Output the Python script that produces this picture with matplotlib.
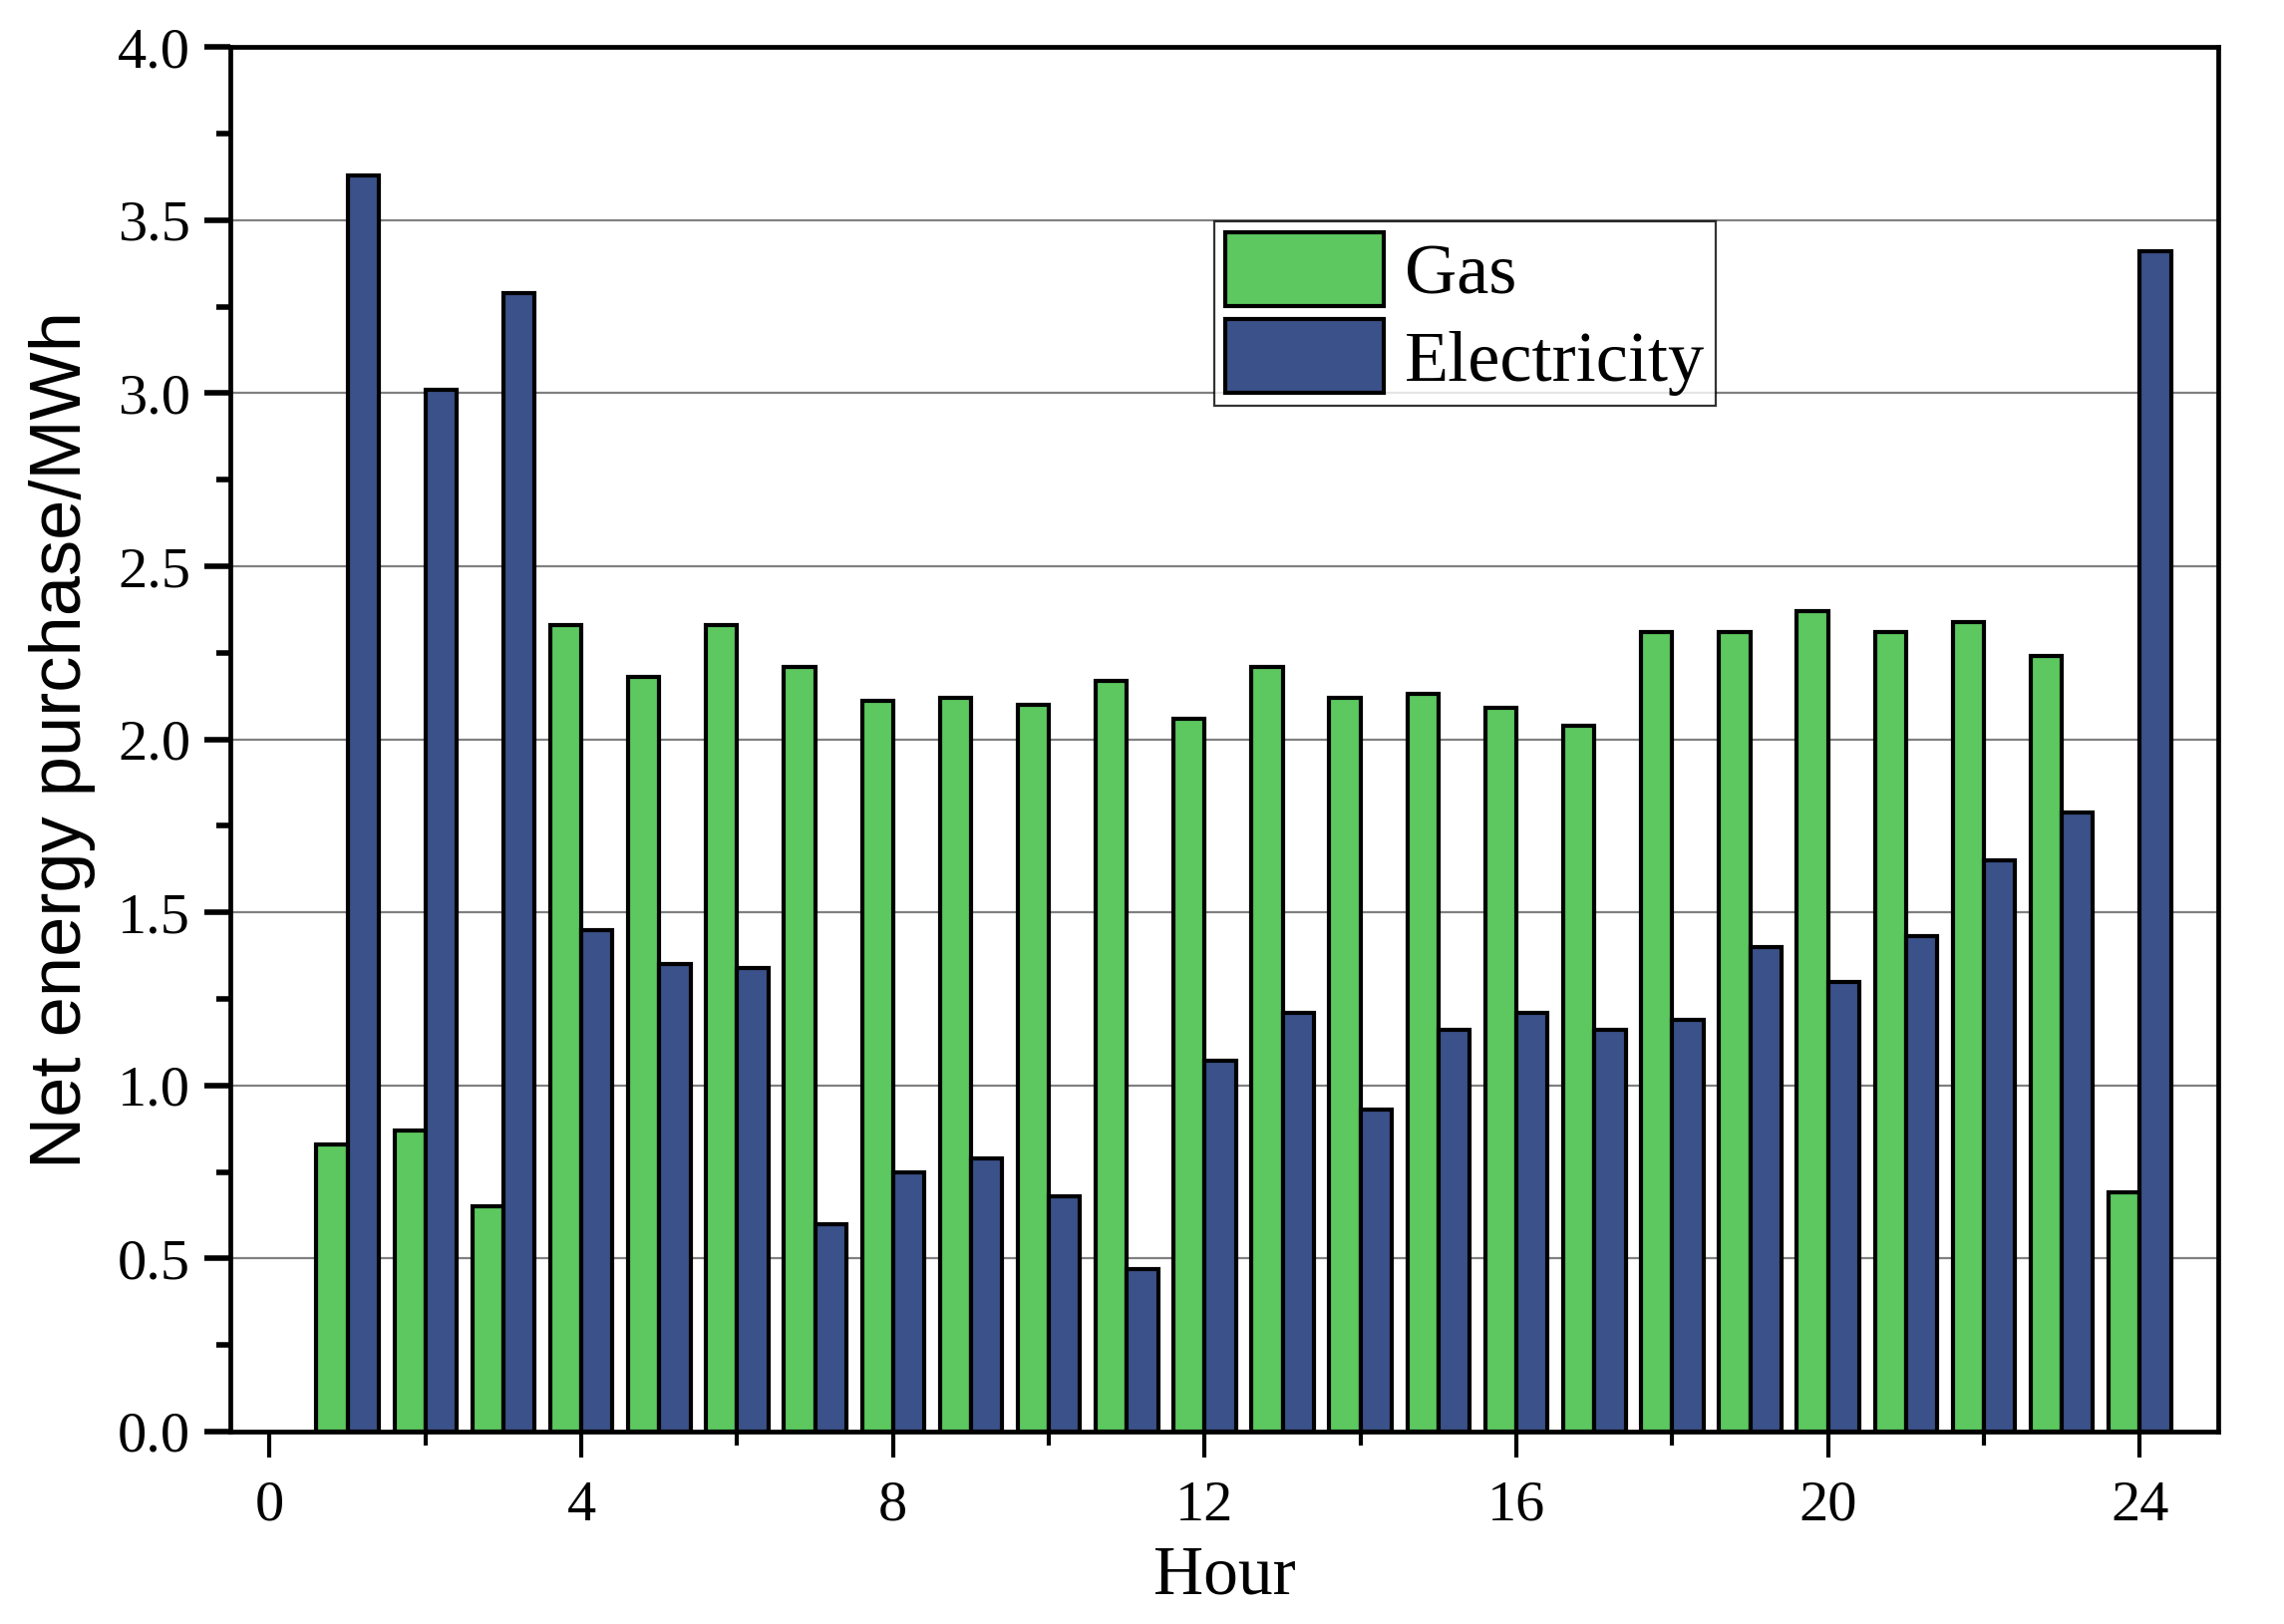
import numpy as np
import matplotlib
matplotlib.use("Agg")
import matplotlib.pyplot as plt
from matplotlib.ticker import MultipleLocator

# hourly net purchase
hours = list(range(1, 25))
gas = [0.83, 0.87, 0.65, 2.33, 2.18, 2.33, 2.21, 2.11, 2.12, 2.10, 2.17, 2.06,
       2.21, 2.12, 2.13, 2.09, 2.04, 2.31, 2.31, 2.37, 2.31, 2.34, 2.24, 0.69]
elec = [3.63, 3.01, 3.29, 1.45, 1.35, 1.34, 0.60, 0.75, 0.79, 0.68, 0.47, 1.07,
        1.21, 0.93, 1.16, 1.21, 1.16, 1.19, 1.40, 1.30, 1.43, 1.65, 1.79, 3.41]
series_names = ["Gas", "Electricity"]
xticks = [0, 4, 8, 12, 16, 20, 24]
yticks = [0.0, 0.5, 1.0, 1.5, 2.0, 2.5, 3.0, 3.5, 4.0]

serif = "Liberation Serif"
sans = "Liberation Sans"

fig = plt.figure(figsize=(11.455, 8.145), dpi=200)
ax = fig.add_axes([0.101, 0.1185, 0.870, 0.8525])

x = np.array(hours)
w = 0.4
ax.bar(x - w / 2, gas, width=w, color="#5CC85F", edgecolor="black", linewidth=1.5,
       label=series_names[0], zorder=3)
ax.bar(x + w / 2, elec, width=w, color="#3A5189", edgecolor="black", linewidth=1.5,
       label=series_names[1], zorder=3)

ax.set_xlim(-0.5, 25)
ax.set_ylim(0, 4.0)
ax.set_xticks(xticks)
ax.xaxis.set_minor_locator(MultipleLocator(2))
ax.set_yticks(yticks)
ax.yaxis.set_minor_locator(MultipleLocator(0.25))
ax.set_yticklabels(["%.1f" % v for v in yticks], family=serif, fontsize=21)
ax.set_xticklabels([str(v) for v in xticks], family=serif, fontsize=21)

ax.grid(axis="y", which="major", color="#808080", linewidth=0.8, zorder=0)

for s in ax.spines.values():
    s.set_linewidth(1.7)

ax.tick_params(axis="y", which="major", direction="out", length=9.5, width=2, pad=5)
ax.tick_params(axis="y", which="minor", direction="out", length=5, width=2)
ax.tick_params(axis="x", which="major", direction="out", length=9.5, width=1.5, pad=8)
ax.tick_params(axis="x", which="minor", direction="out", length=5, width=1.5)

ax.set_xlabel("Hour", family=serif, fontsize=25, labelpad=5)
ax.set_ylabel("Net energy purchase/MWh", family=sans, fontsize=26, labelpad=8)

leg = ax.legend(loc="upper left", bbox_to_anchor=(0.495, 0.874), borderaxespad=0,
                prop={"family": serif, "size": 26}, frameon=True, fancybox=False,
                edgecolor="black", handlelength=2.2, handleheight=1.2,
                labelspacing=0.15, handletextpad=0.3, borderpad=0.15)
leg.get_frame().set_linewidth(0.8)

fig.savefig("out.png", dpi=200)
